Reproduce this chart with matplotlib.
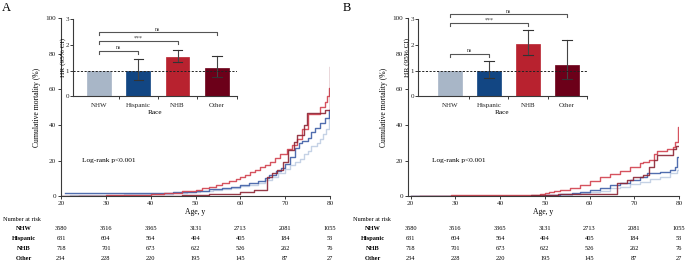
import matplotlib
matplotlib.use("Agg")
import matplotlib.pyplot as plt
import matplotlib.transforms as mtransforms
import numpy as np

plt.rcParams['font.family'] = ['Liberation Serif', 'DejaVu Serif']

# ---------------- data ----------------
groups = ["NHW", "Hispanic", "NHB", "Other"]
risk_ages = [20, 30, 40, 50, 60, 70, 80]
risk_nhw = [3580, 3516, 3365, 3131, 2713, 2081, 1055]
risk_hisp = [631, 604, 564, 494, 405, 184, 53]
risk_nhb = [718, 701, 673, 622, 526, 262, 76]
risk_other = [234, 228, 220, 195, 145, 87, 27]

# Panel A curves (age, cumulative mortality %)
a_nhw_age = [20, 22, 34, 45, 48, 51, 54, 56, 58, 60, 62, 64, 65.5, 67, 68.5, 70, 71, 72.2, 73.2,
             74.1, 75, 75.8, 77, 77.8, 78.5, 79.2, 79.7, 80]
a_nhw_val = [0, 0.5, 1.5, 2.0, 2.5, 3.0, 3.5, 4.0, 4.5, 5.5, 6.5, 7.5, 9.0, 11.0, 13.0, 15.5, 17.5,
             19.5, 21.0, 23.5, 25.5, 28.0, 30.0, 32.0, 35.0, 38.0, 47.0, 47.0]
a_hisp_age = [21, 34, 45, 50, 53, 56, 58, 60, 62, 64, 65.5, 66.5, 68, 69, 70, 71, 72.2, 73, 73.8,
              75, 75.8, 76.7, 77.8, 78.9, 79.7, 80]
a_hisp_val = [1.7, 2.0, 2.5, 3.2, 4.0, 4.8, 5.4, 6.3, 7.3, 8.5, 10.0, 12.0, 14.0, 15.7, 18.0, 22.0,
              27.0, 29.7, 31.0, 32.5, 36.3, 38.5, 41.0, 44.0, 48.5, 48.5]
a_nhb_age = [24, 30, 36, 40, 43, 45, 47, 48.5, 50, 51.5, 53, 54.5, 56, 57.5, 59, 60, 61, 62.2, 63.3,
             64.4, 65.5, 66.7, 67.8, 68.9, 70.4, 71.5, 72.6, 73.7, 75.2, 77.8, 78.9, 79.3, 79.7, 80]
a_nhb_val = [0.2, 0.5, 0.8, 1.2, 1.7, 2.0, 2.7, 3.2, 3.8, 4.5, 5.4, 6.3, 7.3, 8.5, 9.8, 11.0, 12.0,
             13.5, 14.8, 16.2, 17.6, 19.5, 21.3, 24.0, 26.5, 28.8, 32.0, 38.0, 46.0, 50.3, 53.0,
             56.0, 61.0, 61.0]
a_oth_age = [20, 47, 53, 60, 63, 66, 67, 68.1, 69.6, 70.7, 71.9, 72.6, 74.1, 74.8, 78.9, 79.9, 80]
a_oth_val = [0, 0.5, 1.5, 2.5, 3.5, 11.0, 13.0, 14.8, 19.4, 26.0, 30.7, 34.4, 40.0, 46.6, 48.4,
             72.7, 72.7]

# Panel B curves
b_nhw_age = [20, 45, 50, 53.5, 56, 58, 60, 62.4, 64.6, 66.8, 69.1, 71.3, 73.5, 75.8, 78, 79.5, 79.9, 80]
b_nhw_val = [0, 0.3, 0.5, 0.8, 1.4, 2.0, 2.6, 3.2, 4.5, 5.4, 6.7, 8.2, 9.5, 11.0, 12.9, 14.8, 16.0, 16.0]
b_hisp_age = [20, 40, 50, 53.5, 56, 57.9, 60.1, 62.4, 64.6, 66.8, 69.1, 71.3, 72.8, 75.8, 78, 79.1,
              79.5, 80]
b_hisp_val = [0, 0.3, 0.7, 1.3, 2.0, 2.6, 3.5, 4.5, 6.4, 7.3, 9.2, 11.0, 12.9, 13.8, 14.8, 16.6,
              22.3, 22.3]
b_nhb_age = [22, 29, 40, 48, 49, 50, 51, 52, 53.5, 55.7, 57.9, 60.1, 62.4, 64.6, 66.8, 69.1, 71.3,
             72, 73.2, 74.3, 75, 77.3, 78.7, 79.1, 79.8, 80]
b_nhb_val = [0, 0.5, 0.8, 1.0, 1.5, 2.0, 2.5, 3.0, 3.5, 4.5, 6.4, 8.6, 10.7, 12.5, 14.4, 16.6, 18.9,
             19.4, 20.4, 24.0, 25.6, 26.4, 27.9, 30.7, 39.0, 39.0]
b_oth_age = [20, 47, 53, 66.1, 68.3, 69.8, 72, 73.2, 74.3, 75, 78.7, 79.3, 80]
b_oth_val = [0, 0.5, 1.5, 7.3, 9.2, 10.7, 12.0, 16.6, 20.4, 23.2, 26.4, 28.0, 28.0]

# Inset hazard ratios
a_hr = [1.0, 0.98, 1.54, 1.10]
a_lo = [np.nan, 0.65, 1.34, 0.77]
a_hi = [np.nan, 1.45, 1.82, 1.58]
b_hr = [1.0, 1.0, 2.03, 1.23]
b_lo = [np.nan, 0.73, 1.61, 0.69]
b_hi = [np.nan, 1.37, 2.59, 2.20]
a_brackets = [(0, 1, 1.77, "ns"), (0, 2, 2.14, "***"), (0, 3, 2.50, "ns")]
b_brackets = [(0, 1, 1.66, "ns"), (0, 2, 2.85, "***"), (0, 3, 3.20, "ns")]

# ---------------- style ----------------
bar_colors = ["#A8B6C7", "#124683", "#B8222F", "#6C0019"]
line_colors = ["#BFCDE3", "#3E5EA6", "#D2404D", "#8C2434"]
axis_col = "#3a3a3a"
W, H = 685, 261

fig = plt.figure(figsize=(W / 100, H / 100), dpi=100)


def rect(l, t, r, b):
    return [l / W, 1 - b / H, (r - l) / W, (b - t) / H]


def style_axes(ax, fs=5.2):
    for s in ("top", "right"):
        ax.spines[s].set_visible(False)
    for s in ("left", "bottom"):
        ax.spines[s].set_color(axis_col)
        ax.spines[s].set_linewidth(0.8)
    ax.tick_params(direction="out", length=2, width=0.7, color=axis_col,
                   labelsize=fs, pad=1.5, labelcolor="#222")


def main_panel(l, r, xmin, curves, label_x, table_label_x, table_start_x, letter, letter_x):
    ax = fig.add_axes(rect(l, 18, r, 196.3))
    style_axes(ax)
    for (ag, vl), c in zip(curves, line_colors):
        ax.step(ag, vl, where="post", color=c, lw=1.0, alpha=0.9)
    ax.set_xlim(xmin, 80)
    ax.set_ylim(0, 100)
    ax.set_xticks(risk_ages)
    ax.set_yticks([0, 20, 40, 60, 80, 100])
    ax.set_xlabel("Age, y", fontsize=5.5, labelpad=1.5)
    ax.set_ylabel("Cumulative mortality (%)", fontsize=5.5, labelpad=3)
    ax.text(label_x, 20, "Log-rank p<0.001", fontsize=5.3, va="center", ha="left")
    # risk table
    trans = mtransforms.blended_transform_factory(ax.transData, fig.transFigure)
    fig.text(table_start_x / W, 1 - 219.5 / H, "Number at risk", fontsize=4.5, va="center", ha="left")
    rows = [risk_nhw, risk_hisp, risk_nhb, risk_other]
    ys = [228.5, 238.5, 248.3, 258]
    for name, row, yy in zip(groups, rows, ys):
        fig.text(table_label_x / W, 1 - yy / H, name, fontsize=4.6, va="center", ha="center",
                 fontweight="bold")
        for a, v in zip(risk_ages, row):
            ax.text(a, 1 - yy / H, str(v), transform=trans, fontsize=4.6, va="center",
                    ha="center", clip_on=False)
    fig.text(letter_x / W, 1 - 8 / H, letter, fontsize=9, va="center", ha="left")
    return ax


def inset(l, r, xmin, xmax, hr, lo, hi, brackets):
    ax = fig.add_axes(rect(l, 19.3, r, 96.3))
    ax.patch.set_alpha(0)
    style_axes(ax, fs=5.0)
    ax.tick_params(axis="y", pad=0.8)
    x = np.arange(len(groups))
    ax.bar(x, hr, width=0.6, color=bar_colors, edgecolor=bar_colors, lw=0.5, zorder=2)
    for i in range(len(groups)):
        if not np.isnan(lo[i]):
            ax.plot([i, i], [lo[i], hi[i]], color="#444", lw=0.8, zorder=3)
            for yv in (lo[i], hi[i]):
                ax.plot([i - 0.12, i + 0.12], [yv, yv], color="#333", lw=0.8, zorder=3)
    ax.axhline(1.0, color="#222", lw=0.7, ls=(0, (2.2, 1.6)), zorder=4)
    ax.set_xlim(xmin, xmax)
    ax.set_ylim(0, 3)
    ax.set_yticks([0, 1, 2, 3])
    ax.set_xticks(x)
    ax.set_xticklabels(groups)
    ax.set_xticks([0.5, 1.5, 2.5, 3.5], minor=True)
    ax.tick_params(axis="x", which="major", length=0, pad=5)
    ax.tick_params(axis="x", which="minor", direction="out", length=2.5, width=0.7, color=axis_col)
    ax.set_xlabel("Race", fontsize=5.2, labelpad=1)
    ax.set_ylabel("HR (95% CI)", fontsize=5.2)
    ax.yaxis.set_label_coords(-7.5 / (r - l), 0.5)
    for i0, i1, yb, txt in brackets:
        ax.plot([i0, i0, i1, i1], [yb - 0.12, yb, yb, yb - 0.12], color="#555", lw=0.8,
                clip_on=False)
        ax.text((i0 + i1) / 2, yb + 0.02, txt, fontsize=4.2, ha="center", va="bottom",
                clip_on=False, color="#333")
    return ax


curves_a = [(a_nhw_age, a_nhw_val), (a_hisp_age, a_hisp_val), (a_nhb_age, a_nhb_val),
            (a_oth_age, a_oth_val)]
curves_b = [(b_nhw_age, b_nhw_val), (b_hisp_age, b_hisp_val), (b_nhb_age, b_nhb_val),
            (b_oth_age, b_oth_val)]

main_panel(61, 330, 20, curves_a, 24.6, 23.5, 3, "A", 2)
main_panel(408, 679, 19.4, curves_b, 24.7, 373, 353, "B", 343)
inset(73, 237, -0.66, 3.51, a_hr, a_lo, a_hi, a_brackets)
inset(417.7, 586.7, -0.82, 3.48, b_hr, b_lo, b_hi, b_brackets)

fig.savefig("out.png", dpi=100)
